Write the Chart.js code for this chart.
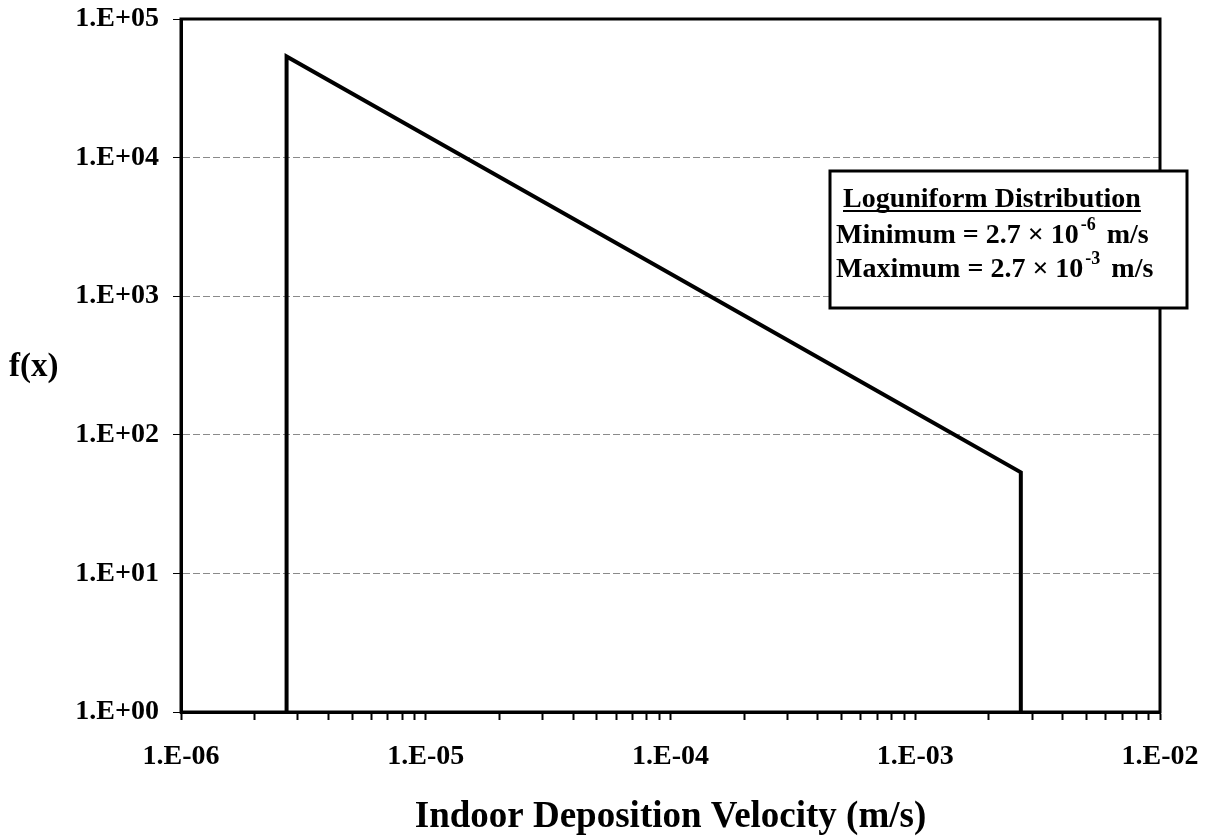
<!DOCTYPE html>
<html>
<head>
<meta charset="utf-8">
<script src="https://cdn.jsdelivr.net/npm/chart.js@4"></script>
<style>
  html, body { margin: 0; padding: 0; background: #fff; }
  #wrap { width: 1210px; height: 840px; }
</style>
</head>
<body>
<div id="wrap"><canvas id="chart" width="1210" height="840"></canvas></div>
<script>
// loguniform pdf
const velocity = [2.7e-6, 2.7e-6, 1e-5, 1e-4, 1e-3, 2.7e-3, 2.7e-3];
const density = [1, 53600, 14500, 1450, 145, 53.6, 1];

const xMajor = [1e-6, 1e-5, 1e-4, 1e-3, 1e-2];
const xTickLabels = ['1.E-06', '1.E-05', '1.E-04', '1.E-03', '1.E-02'];
const yMajor = [1, 10, 100, 1000, 10000, 100000];
const yTickLabels = ['1.E+00', '1.E+01', '1.E+02', '1.E+03', '1.E+04', '1.E+05'];

const legendTitle = 'Loguniform Distribution';
const legendRows = [
  ['Minimum = 2.7 \u00d7 10', '-6', ' m/s'],
  ['Maximum = 2.7 \u00d7 10', '-3', ' m/s']
];

const serif = '"Liberation Serif", "Times New Roman", serif';

// frame + y label + text box
const extras = {
  id: 'extras',
  afterDraw(chart) {
    const ctx = chart.ctx;
    const a = chart.chartArea;
    ctx.save();
    ctx.strokeStyle = '#000';
    ctx.lineWidth = 3;
    ctx.strokeRect(a.left, a.top, a.right - a.left, a.bottom - a.top);

    ctx.fillStyle = '#000';
    ctx.font = 'bold 33px ' + serif;
    ctx.textAlign = 'left';
    ctx.textBaseline = 'middle';
    ctx.fillText('f(x)', 9, 367);

    // info box
    const bx = 830, by = 171, bw = 357, bh = 137;
    ctx.fillStyle = '#fff';
    ctx.fillRect(bx, by, bw, bh);
    ctx.lineWidth = 3;
    ctx.strokeRect(bx, by, bw, bh);

    ctx.fillStyle = '#000';
    ctx.textBaseline = 'alphabetic';
    ctx.font = 'bold 28px ' + serif;
    ctx.fillText(legendTitle, 843, 207);
    const tw = ctx.measureText(legendTitle).width;
    ctx.fillRect(843, 210, tw, 2);

    legendRows.forEach((row, i) => {
      const y = 243 + i * 34;
      let x = 836;
      ctx.font = 'bold 28px ' + serif;
      ctx.fillText(row[0], x, y);
      x += ctx.measureText(row[0]).width + 2;
      ctx.font = 'bold 18px ' + serif;
      ctx.fillText(row[1], x, y - 13);
      x += ctx.measureText(row[1]).width + 4;
      ctx.font = 'bold 28px ' + serif;
      ctx.fillText(row[2], x, y);
    });
    ctx.restore();
  }
};

const ctx = document.getElementById('chart').getContext('2d');
new Chart(ctx, {
  type: 'scatter',
  data: {
    datasets: [{
      data: velocity.map((v, i) => ({ x: v, y: density[i] })),
      showLine: true,
      borderColor: '#000',
      borderWidth: 4,
      pointRadius: 0,
      tension: 0
    }]
  },
  options: {
    responsive: false,
    animation: false,
    layout: { padding: { left: 0, right: 50, top: 19, bottom: 0 } },
    plugins: { legend: { display: false }, tooltip: { enabled: false } },
    scales: {
      x: {
        type: 'logarithmic',
        min: 1e-6,
        max: 1e-2,
        afterBuildTicks(scale) {
          const t = [];
          for (let k = 0; k < xMajor.length - 1; k++) {
            for (let m = 1; m <= 9; m++) t.push({ value: m * xMajor[k] });
          }
          t.push({ value: xMajor[xMajor.length - 1] });
          scale.ticks = t;
        },
        afterFit(scale) {
          scale.height = 128;
          scale.paddingLeft = 0;
          scale.paddingRight = 0;
        },
        ticks: {
          autoSkip: false,
          maxRotation: 0,
          padding: 20,
          color: '#000',
          font: { family: serif, size: 28, weight: 'bold' },
          callback(value) {
            const i = xMajor.findIndex(v => Math.abs(v - value) / v < 1e-6);
            return i >= 0 ? xTickLabels[i] : '';
          }
        },
        grid: { drawOnChartArea: false, tickLength: 8, tickColor: '#000', tickWidth: 2 },
        border: { display: true, color: '#000', width: 3 },
        title: {
          display: true,
          text: 'Indoor Deposition Velocity (m/s)',
          color: '#000',
          font: { family: serif, size: 37, weight: 'bold' },
          padding: { top: 0, bottom: 0 }
        }
      },
      y: {
        type: 'logarithmic',
        min: 1,
        max: 1e5,
        afterBuildTicks(scale) {
          scale.ticks = yMajor.map(v => ({ value: v }));
        },
        afterFit(scale) {
          scale.width = 181;
          scale.paddingTop = 0;
          scale.paddingBottom = 0;
        },
        ticks: {
          padding: 14,
          color: '#000',
          font: { family: serif, size: 28, weight: 'bold' },
          callback(value) {
            const i = yMajor.findIndex(v => Math.abs(v - value) / v < 1e-6);
            return i >= 0 ? yTickLabels[i] : '';
          }
        },
        grid: { color: '#8a8a8a', lineWidth: 1, tickLength: 8, tickColor: '#000', tickBorderDash: [] },
        border: { display: true, color: '#000', width: 3, dash: [7, 3] }
      }
    }
  },
  plugins: [extras]
});
</script>
</body>
</html>
